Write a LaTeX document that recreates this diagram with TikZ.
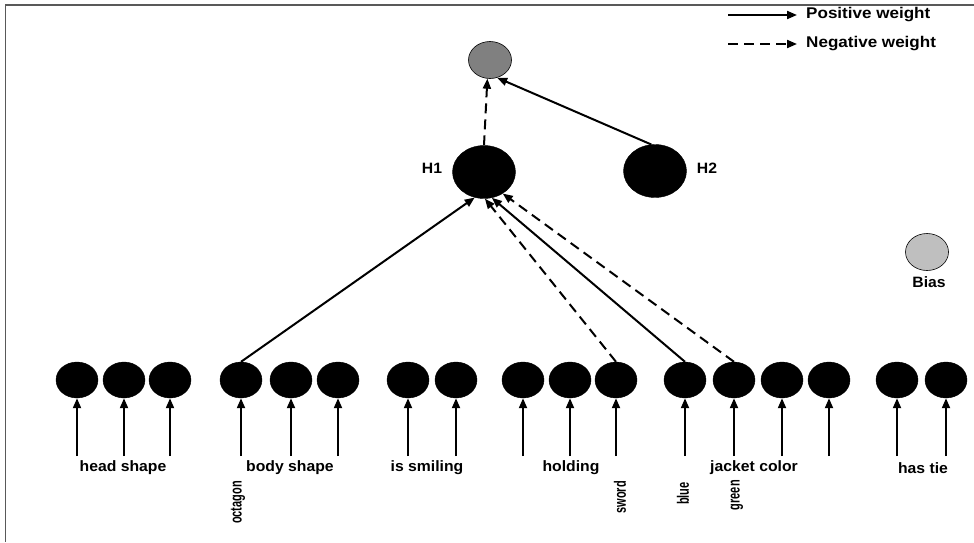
\documentclass[tikz,border=0pt]{standalone}
\usepackage{fontspec}
\setmainfont{Liberation Sans}
\usetikzlibrary{shapes.geometric,arrows.meta}
\newcommand\stx[1]{\scalebox{1.05}[1]{#1}}
\newcommand\sty[1]{\scalebox{1}[1.5]{#1}}
\begin{document}
\begin{tikzpicture}[x=1pt,y=-1pt,
  unit/.style={ellipse,fill=black,draw=black,minimum width=42pt,minimum height=36pt,inner sep=0pt},
  hid/.style={ellipse,fill=black,draw=black,minimum width=63pt,minimum height=53pt,inner sep=0pt},
  outn/.style={ellipse,fill=black!50,draw=black,line width=0.6pt,minimum width=43pt,minimum height=37pt,inner sep=0pt},
  biasn/.style={ellipse,fill=black!25,draw=black,line width=0.6pt,minimum width=43pt,minimum height=37pt,inner sep=0pt},
  lbl/.style={font=\fontsize{15}{17}\selectfont\bfseries,inner sep=0pt},
  vlbl/.style={font=\fontsize{11}{13}\selectfont\bfseries,inner sep=0pt,rotate=90,anchor=east},
  posw/.style={line width=2pt,-{Triangle[length=10pt,width=8pt]}},
  negw/.style={posw,dash pattern=on 10pt off 6pt},
  frm/.style={draw=black!65,line width=1.5pt}]
\useasboundingbox (0,0) rectangle (974,542);
% frame
\draw[frm] (974,5) -- (5.5,5) -- (5.5,542);
% input units
\foreach \n/\x in {1/77,2/124,3/170,4/241,5/291,6/338,7/408,8/456,9/523,10/570,11/616,12/685,13/734,14/782,15/829,16/897,17/946}{
  \node[unit] (in\n) at (\x,380) {};
  \coordinate (b\n) at (\x,456);
  \draw[posw] (b\n) -- (in\n);
}
% hidden and output
\node[hid] (H1) at (484,172) {};
\node[hid] (H2) at (655,171) {};
\node[outn] (out) at (490,60) {};
\node[biasn] (bias) at (927,252) {};
\node[lbl] (lH1) at (432,168) {\stx{H1}};
\node[lbl] (lH2) at (707,168) {\stx{H2}};
\node[lbl] (lbias) at (929,282) {\stx{Bias}};
% connections
\draw[negw] (H1.north) -- (out.262);
\draw[posw] (H2.98) -- (out.292);
\draw[posw] (in4.north) -- (H1.250);
\draw[negw] (in11.north) -- (H1.272);
\draw[posw] (in12.north) -- (H1.287);
\draw[negw] (in13.north) -- (H1.311);
% group labels
\node[lbl] (g1) at (123,468) {\stx{head shape}};
\node[lbl] (g2) at (290,468) {\stx{body shape}};
\node[lbl] (g3) at (427,468) {\stx{is smiling}};
\node[lbl] (g4) at (571,468) {\stx{holding}};
\node[lbl] (g5) at (754,468) {\stx{jacket color}};
\node[lbl] (g6) at (923,468) {\stx{has tie}};
% value labels
\node[vlbl] (v1) at (238,481) {\sty{octagon}};
\node[vlbl] (v2) at (620,481) {\sty{sword}};
\node[vlbl] (v3) at (683,482) {\sty{blue}};
\node[vlbl] (v4) at (737,480) {\sty{green}};
% legend
\coordinate (p1) at (728,15);
\coordinate (p2) at (797,15);
\coordinate (n1) at (728,44);
\coordinate (n2) at (797,44);
\draw[posw] (p1) -- (p2);
\draw[negw] (n1) -- (n2);
\node[lbl,anchor=west,font=\fontsize{15.5}{17}\selectfont\bfseries] (lp) at (806,15) {\scalebox{1.1}[1]{Positive weight}};
\node[lbl,anchor=west,font=\fontsize{15.5}{17}\selectfont\bfseries] (ln) at (806,44) {\scalebox{1.1}[1]{Negative weight}};
\end{tikzpicture}
\end{document}
